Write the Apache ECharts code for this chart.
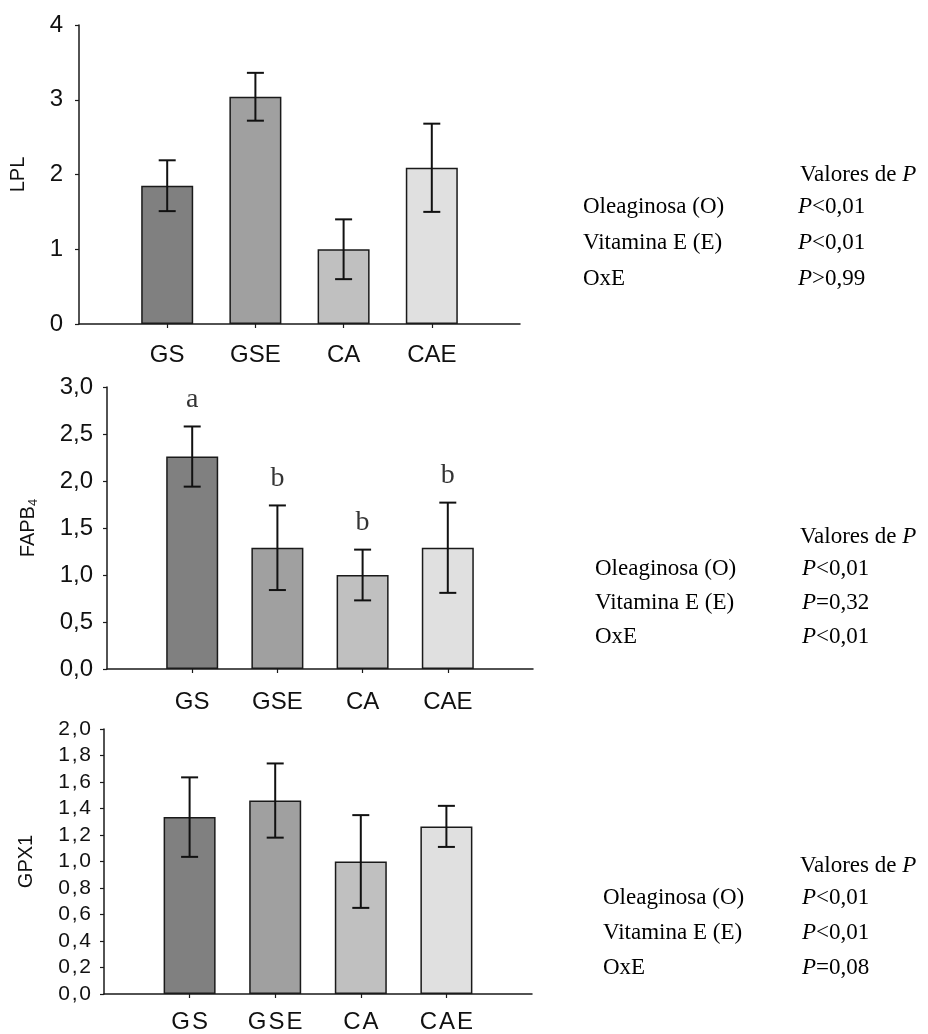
<!DOCTYPE html>
<html><head><meta charset="utf-8">
<script src="https://cdn.jsdelivr.net/npm/echarts@6/dist/echarts.min.js"></script>
<style>html,body{margin:0;padding:0;background:#fff}#c{width:928px;height:1034px}</style>
</head><body><div id="c"></div>
<script>
var categories = ['GS', 'GSE', 'CA', 'CAE'];
var barColors = ['#808080', '#a0a0a0', '#c0c0c0', '#e0e0e0'];

var lplValues = [1.85, 3.04, 1.00, 2.09];
var lplErrors = [0.34, 0.32, 0.40, 0.59];

var fapbValues = [2.26, 1.29, 1.00, 1.29];
var fapbErrors = [0.32, 0.45, 0.27, 0.48];
var fapbLetters = ['a', 'b', 'b', 'b'];

var gpxValues = [1.335, 1.46, 1.00, 1.265];
var gpxErrors = [0.30, 0.28, 0.35, 0.155];

var pFactors = ['Oleaginosa (O)', 'Vitamina E (E)', 'OxE'];
var pLpl = ['<0,01', '<0,01', '>0,99'];
var pFapb = ['<0,01', '=0,32', '<0,01'];
var pGpx = ['<0,01', '<0,01', '=0,08'];

var SANS = '"Liberation Sans", Arial, sans-serif';
var SERIF = '"Liberation Serif", "Times New Roman", serif';
var axisData = [''].concat(categories).concat(['']);
var inner = function (i) { return i >= 1 && i <= 4; };

var grids = [
  {left: 79, top: 25, width: 441, height: 299},
  {left: 107, top: 387, width: 426, height: 282},
  {left: 104, top: 729, width: 428, height: 265}
];

function xAxis(gi, spaced, margin) {
  return {
    type: 'category', gridIndex: gi, data: axisData, boundaryGap: false,
    axisLine: {lineStyle: {color: '#1a1a1a', width: 1.5}},
    axisTick: {show: true, length: 4, inside: false, interval: function (i) { return inner(i); }, lineStyle: {color: '#1a1a1a', width: 1.2}},
    axisLabel: {interval: function (i) { return inner(i); }, color: '#111', fontFamily: SANS, fontSize: 24, margin: margin,
      formatter: function (v) { return spaced ? v.split('').join('\u200A') : v; }},
    splitLine: {show: false}
  };
}
function yAxis(gi, max, interval, name, fmt, fontSize, nameGap, margin) {
  return {
    type: 'value', gridIndex: gi, min: 0, max: max, interval: interval,
    name: name, nameLocation: 'middle', nameGap: nameGap, nameRotate: 90,
    nameTextStyle: {color: '#111', fontFamily: SANS, fontSize: 20,
      rich: {sub: {fontFamily: SANS, fontSize: 13, verticalAlign: 'bottom', padding: [10, 0, 0, 0]}}},
    axisLine: {show: true, lineStyle: {color: '#1a1a1a', width: 1.5}},
    axisTick: {show: true, length: 4, lineStyle: {color: '#1a1a1a', width: 1.2}},
    axisLabel: {color: '#111', fontFamily: SANS, fontSize: fontSize, margin: margin, formatter: fmt},
    splitLine: {show: false}
  };
}
var fmtInt = function (v) { return String(v); };
var fmtDec = function (v) { return v.toFixed(1).replace('.', ','); };
var fmtDecSpaced = function (v) { return v.toFixed(1).replace('.', ',').split('').join('\u200A'); };

function barSeries(gi, values) {
  return {
    type: 'bar', xAxisIndex: gi, yAxisIndex: gi, barWidth: 52,
    data: values.map(function (v, i) {
      return {value: [i + 1, v], itemStyle: {color: barColors[i], borderColor: '#1a1a1a', borderWidth: 1.5}};
    }),
    animation: false, silent: true
  };
}
function errSeries(gi, values, errs) {
  return {
    type: 'custom', xAxisIndex: gi, yAxisIndex: gi,
    data: values.map(function (v, i) { return [i + 1, v, errs[i]]; }),
    encode: {x: 0, y: 1},
    renderItem: function (params, api) {
      var x = api.value(0), v = api.value(1), e = api.value(2);
      var hi = api.coord([x, v + e]), lo = api.coord([x, v - e]);
      var hw = 8.5, st = {stroke: '#111', lineWidth: 2};
      return {type: 'group', children: [
        {type: 'line', shape: {x1: hi[0], y1: hi[1], x2: lo[0], y2: lo[1]}, style: st},
        {type: 'line', shape: {x1: hi[0] - hw, y1: hi[1], x2: hi[0] + hw, y2: hi[1]}, style: st},
        {type: 'line', shape: {x1: lo[0] - hw, y1: lo[1], x2: lo[0] + hw, y2: lo[1]}, style: st}
      ]};
    },
    z: 5, animation: false, silent: true
  };
}
function letterSeries(gi, values, errs, letters) {
  return {
    type: 'scatter', xAxisIndex: gi, yAxisIndex: gi, symbolSize: 1,
    itemStyle: {color: 'rgba(0,0,0,0)'},
    data: values.map(function (v, i) { return [i + 1, v + errs[i]]; }),
    label: {show: true, position: 'top', distance: 12, color: '#000', fontFamily: SERIF, fontSize: 28,
      formatter: function (p) { return letters[p.dataIndex]; }},
    animation: false, silent: true, z: 6
  };
}

var FS = 23;
function pBlock(hx, hy, rows, lx, px, pvals) {
  var els = [];
  var rich = {i: {fontFamily: SERIF, fontSize: FS, fontStyle: 'italic', fill: '#000'}, n: {fontFamily: SERIF, fontSize: FS, fill: '#000'}};
  var font = FS + 'px ' + SERIF;
  els.push({type: 'text', x: hx, y: hy, style: {text: '{n|Valores de }{i|P}', rich: rich, fill: '#000', font: font, verticalAlign: 'middle'}});
  for (var k = 0; k < pFactors.length; k++) {
    els.push({type: 'text', x: lx, y: rows[k], style: {text: pFactors[k], fill: '#000', font: font, verticalAlign: 'middle'}});
    els.push({type: 'text', x: px, y: rows[k], style: {text: '{i|P}{n|' + pvals[k] + '}', rich: rich, fill: '#000', font: font, verticalAlign: 'middle'}});
  }
  return els;
}

var graphics = []
  .concat(pBlock(800, 175, [207, 243, 279], 583, 798, pLpl))
  .concat(pBlock(800, 537, [569, 603, 637], 595, 802, pFapb))
  .concat(pBlock(800, 866, [898, 933, 968], 603, 802, pGpx));

var chart = echarts.init(document.getElementById('c'), null, {renderer: 'canvas'});
chart.setOption({
  backgroundColor: '#fff',
  animation: false,
  grid: grids,
  xAxis: [xAxis(0, false, 19), xAxis(1, false, 21), xAxis(2, true, 16)],
  yAxis: [
    yAxis(0, 4, 1, 'LPL', fmtInt, 24, 51, 16),
    yAxis(1, 3, 0.5, 'FAPB{sub|4}', fmtDec, 24, 67, 14),
    yAxis(2, 2, 0.2, 'GPX1', fmtDecSpaced, 21, 68, 13)
  ],
  series: [
    barSeries(0, lplValues), errSeries(0, lplValues, lplErrors),
    barSeries(1, fapbValues), errSeries(1, fapbValues, fapbErrors), letterSeries(1, fapbValues, fapbErrors, fapbLetters),
    barSeries(2, gpxValues), errSeries(2, gpxValues, gpxErrors)
  ],
  graphic: graphics
});
</script></body></html>
